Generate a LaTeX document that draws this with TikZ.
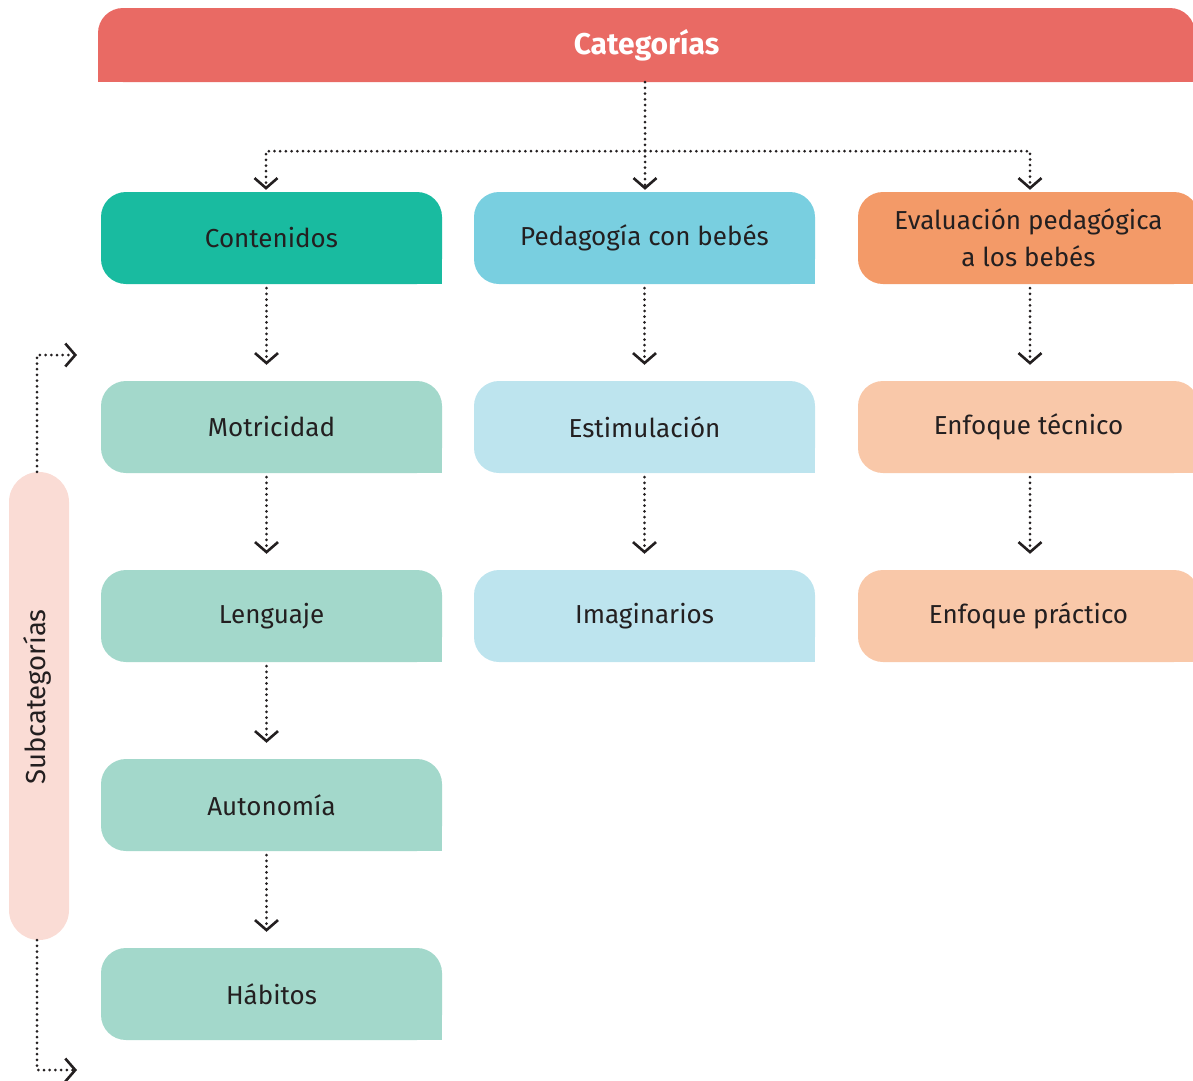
\documentclass[tikz,border=0pt]{standalone}
\usepackage{fontspec}
\setmainfont{Fira Sans}
\usetikzlibrary{arrows.meta,backgrounds}
\definecolor{banner}{HTML}{E96A64}
\definecolor{cA}{HTML}{19BBA0}
\definecolor{cB}{HTML}{79CFE0}
\definecolor{cC}{HTML}{F39A68}
\definecolor{lA}{HTML}{A3D8CB}
\definecolor{lB}{HTML}{BDE4EE}
\definecolor{lC}{HTML}{F9C8A9}
\definecolor{pill}{HTML}{FADCD5}
\definecolor{txt}{HTML}{231F20}
\tikzset{
  box/.style={rectangle, rounded corners=25pt, minimum width=341pt, minimum height=92pt,
    inner sep=0pt, align=center, text=txt, font=\fontsize{26}{37}\selectfont},
  dots/.style={draw=txt, line width=3pt, line cap=round, dash pattern=on 0pt off 5.7pt},
  arr/.style={dots, -{Straight Barb[length=10pt,width=23pt,line width=2.6pt]}},
}
\newcommand\catbox[5]{%
  \node[box, fill=#4] (#1) at (#2,#3) {#5};
  \begin{pgfonlayer}{background}
  \fill[#4] (#1.south east) rectangle ([shift={(-30pt,30pt)}]#1.south east);
  \end{pgfonlayer}
}
\begin{document}
\begin{tikzpicture}[x=1pt,y=-1pt]
\useasboundingbox (0,0) rectangle (1193,1080);
\clip (0,0) rectangle (1193,1080);
% banner
\node[rectangle, rounded corners=25pt, fill=banner, minimum width=1097pt, minimum height=74pt,
  inner sep=0pt, text=white, font=\bfseries\fontsize{30}{36}\selectfont] (cat) at (646.5,45) {\raisebox{-2pt}{Categorías}};
\begin{pgfonlayer}{background}
\fill[banner] (cat.south west) rectangle ([yshift=30pt]cat.south east);
\end{pgfonlayer}
% column 1
\catbox{cont}{271.5}{238}{cA}{Contenidos}
\catbox{mot}{271.5}{427}{lA}{Motricidad}
\catbox{len}{271.5}{616}{lA}{Lenguaje}
\catbox{aut}{271.5}{805}{lA}{Autonomía}
\catbox{hab}{271.5}{994}{lA}{Hábitos}
% column 2
\catbox{ped}{644.5}{238}{cB}{Pedagogía con bebés}
\catbox{est}{644.5}{427}{lB}{Estimulación}
\catbox{ima}{644.5}{616}{lB}{Imaginarios}
% column 3
\catbox{eva}{1028.5}{238}{cC}{Evaluación pedagógica\\a los bebés}
\catbox{tec}{1028.5}{427}{lC}{Enfoque técnico}
\catbox{pra}{1028.5}{616}{lC}{Enfoque práctico}
% top connectors
\draw[arr, shorten >=2pt] ([xshift=-1.5pt]cat.south) -- ([xshift=-1.5pt]cat.south |- ped.north);
\coordinate (hub) at ([xshift=-1.5pt,yshift=-69pt]cat.south);
\draw[arr, shorten >=2pt] (hub) -| ([xshift=-5.5pt]cont.north);
\draw[arr, shorten >=2pt] (hub) -| ([xshift=1.5pt]eva.north);
% vertical connectors
\draw[arr, shorten <=4pt, shorten >=16pt] ([xshift=-5pt]cont.south) -- ([xshift=-5pt]mot.north);
\draw[arr, shorten <=4pt, shorten >=16pt] ([xshift=-5pt]mot.south) -- ([xshift=-5pt]len.north);
\draw[arr, shorten <=4pt, shorten >=16pt] ([xshift=-5pt]len.south) -- ([xshift=-5pt]aut.north);
\draw[arr, shorten <=4pt, shorten >=16pt] ([xshift=-5pt]aut.south) -- ([xshift=-5pt]hab.north);
\draw[arr, shorten <=4pt, shorten >=16pt] (ped.south) -- (est.north);
\draw[arr, shorten <=4pt, shorten >=16pt] (est.south) -- (ima.north);
\draw[arr, shorten <=4pt, shorten >=16pt] ([xshift=1.5pt]eva.south) -- ([xshift=1.5pt]tec.north);
\draw[arr, shorten <=4pt, shorten >=16pt] ([xshift=1.5pt]tec.south) -- ([xshift=1.5pt]pra.north);
% subcategorias pill
\node[rectangle, rounded corners=30pt, fill=pill, minimum width=60pt, minimum height=468pt, inner sep=0pt] (sub) at (39,706) {};
\node[rotate=90, text=txt, font=\fontsize{27.5}{32}\selectfont] (subt) at (37,697) {Subcategorías};
\coordinate (e1) at (77,355);
\coordinate (e2) at (77,1070);
\draw[arr] ([xshift=-2pt]sub.north) |- (e1);
\draw[arr] ([xshift=-2pt]sub.south) |- (e2);
\end{tikzpicture}
\end{document}
